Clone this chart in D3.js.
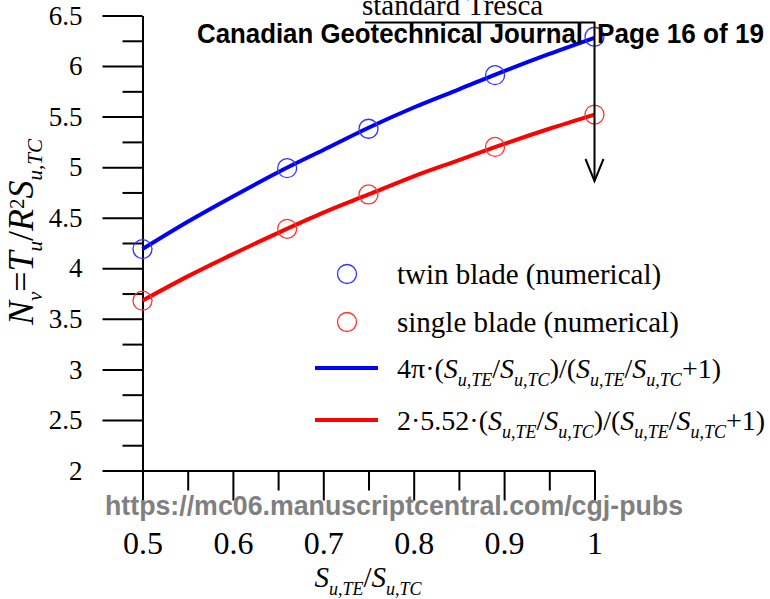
<!DOCTYPE html>
<html>
<head>
<meta charset="utf-8">
<script src="https://cdn.jsdelivr.net/npm/d3@7/dist/d3.min.js"></script>
<style>
  html, body { margin: 0; padding: 0; background: #fff; }
  svg { display: block; }
</style>
</head>
<body>
<svg id="chart" width="770" height="599"></svg>
<script>
// Strength ratio S_u,TE / S_u,TC at the numerical runs
const ratioPoints = [0.5, 0.66, 0.75, 0.89, 1.0];
const twinBlade = [4.19, 4.99, 5.38, 5.91, 6.29];
const singleBlade = [3.68, 4.39, 4.73, 5.20, 5.52];

// Closed-form curves, sampled along the ratio axis
const curveRatio = [0.5, 0.55, 0.6, 0.65, 0.7, 0.75, 0.8, 0.85, 0.9, 0.95, 1.0];
const twinCurve = [4.19, 4.46, 4.71, 4.95, 5.17, 5.39, 5.59, 5.77, 5.95, 6.12, 6.28];
const singleCurve = [3.68, 3.92, 4.14, 4.35, 4.55, 4.73, 4.91, 5.07, 5.23, 5.38, 5.52];

const xTicks = [0.5, 0.6, 0.7, 0.8, 0.9, 1.0];
const xTickLabels = ["0.5", "0.6", "0.7", "0.8", "0.9", "1"];
const xMinorTicks = [0.55, 0.65, 0.75, 0.85, 0.95];
const yTicks = [2, 2.5, 3, 3.5, 4, 4.5, 5, 5.5, 6, 6.5];
const yTickLabels = ["2", "2.5", "3", "3.5", "4", "4.5", "5", "5.5", "6", "6.5"];
const yMinorTicks = [2.25, 2.75, 3.25, 3.75, 4.25, 4.75, 5.25, 5.75, 6.25];

const SERIF = "'Liberation Serif', 'Times New Roman', serif";
const SANS = "'Liberation Sans', Arial, sans-serif";

const svg = d3.select("#chart");

const x = d3.scaleLinear().domain([0.5, 1.0]).range([142.5, 594.5]);
const y = d3.scaleLinear().domain([2, 6.5]).range([470.5, 15.5]);

// Rich text helper: parts = [{t, i (italic), sub, sup}]
function richText(sel, parts, size, subSize, shift) {
  let level = 0;
  parts.forEach(p => {
    const target = p.sub ? shift : p.sup ? -shift * 1.05 : 0;
    const ts = sel.append("tspan")
      .text(p.t)
      .attr("font-style", p.i ? "italic" : "normal")
      .attr("font-size", (p.sub || p.sup) ? subSize : size);
    if (target !== level) { ts.attr("dy", target - level); level = target; }
  });
}

// ---- axes ----
const axisG = svg.append("g");

const yAxis = d3.axisLeft(y).tickValues(yTicks)
  .tickFormat((d, i) => yTickLabels[i])
  .tickSize(40).tickSizeOuter(0).tickPadding(20);
const yMinor = d3.axisLeft(y).tickValues(yMinorTicks)
  .tickFormat("").tickSize(20).tickSizeOuter(0);
const xAxis = d3.axisBottom(x).tickValues(xTicks)
  .tickFormat((d, i) => xTickLabels[i])
  .tickSize(30).tickSizeOuter(0).tickPadding(31);
const xMinor = d3.axisBottom(x).tickValues(xMinorTicks)
  .tickFormat("").tickSize(20).tickSizeOuter(0);

const gy = axisG.append("g").attr("transform", `translate(${x(0.5)},0)`).call(yAxis);
axisG.append("g").attr("transform", `translate(${x(0.5)},0)`).call(yMinor);
const gx = axisG.append("g").attr("transform", `translate(0,${y(2)})`).call(xAxis);
axisG.append("g").attr("transform", `translate(0,${y(2)})`).call(xMinor);

axisG.selectAll("path.domain").attr("stroke", "#000").attr("stroke-width", 2);
axisG.selectAll(".tick line").attr("stroke", "#000").attr("stroke-width", 2);
gy.selectAll(".tick text")
  .attr("font-family", SERIF).attr("font-size", 27).attr("fill", "#000");
gx.selectAll(".tick text")
  .attr("font-family", SERIF).attr("font-size", 32).attr("fill", "#000");

// ---- curves ----
const line = d3.line().curve(d3.curveMonotoneX)
  .x(d => x(d[0])).y(d => y(d[1]));

svg.append("path")
  .datum(curveRatio.map((r, i) => [r, twinCurve[i]]))
  .attr("d", line).attr("fill", "none")
  .attr("stroke", "#0000ff").attr("stroke-width", 4);
svg.append("path")
  .datum(curveRatio.map((r, i) => [r, singleCurve[i]]))
  .attr("d", line).attr("fill", "none")
  .attr("stroke", "#ff0000").attr("stroke-width", 4);

// ---- numerical points ----
svg.append("g").selectAll("circle")
  .data(ratioPoints.map((r, i) => [r, twinBlade[i]]))
  .join("circle")
  .attr("cx", d => x(d[0])).attr("cy", d => y(d[1])).attr("r", 9.5)
  .attr("fill", "none").attr("stroke", "#3333ff").attr("stroke-width", 1.3);
svg.append("g").selectAll("circle")
  .data(ratioPoints.map((r, i) => [r, singleBlade[i]]))
  .join("circle")
  .attr("cx", d => x(d[0])).attr("cy", d => y(d[1])).attr("r", 9.5)
  .attr("fill", "none").attr("stroke", "#ff3333").attr("stroke-width", 1.3);

// ---- "standard Tresca" pointer ----
const ann = svg.append("g").attr("stroke", "#000").attr("stroke-width", 2).attr("fill", "none");
ann.append("path").attr("d", `M365,22.5 H${x(1)} V181`);
ann.append("path").attr("d", `M${x(1) - 9},159 L${x(1)},181 L${x(1) + 9},159`);
svg.append("text")
  .attr("x", 362).attr("y", 15)
  .attr("font-family", SERIF).attr("font-size", 29)
  .text("standard Tresca");

// ---- legend ----
const lg = svg.append("g");
lg.append("circle").attr("cx", 347).attr("cy", 274).attr("r", 9.5)
  .attr("fill", "none").attr("stroke", "#3333ff").attr("stroke-width", 1.3);
lg.append("circle").attr("cx", 347).attr("cy", 322).attr("r", 9.5)
  .attr("fill", "none").attr("stroke", "#ff3333").attr("stroke-width", 1.3);
lg.append("line").attr("x1", 315).attr("x2", 378).attr("y1", 368).attr("y2", 368)
  .attr("stroke", "#0000ff").attr("stroke-width", 4);
lg.append("line").attr("x1", 315).attr("x2", 378).attr("y1", 420).attr("y2", 420)
  .attr("stroke", "#ff0000").attr("stroke-width", 4);

const legText = (yy, fs) => lg.append("text").attr("x", 397).attr("y", yy)
  .attr("font-family", SERIF).attr("font-size", fs).attr("fill", "#000");

legText(284, 29).text("twin blade (numerical)");
legText(332, 29).text("single blade (numerical)");

const ratioParts = [
  { t: "(" }, { t: "S", i: true }, { t: "u,TE", i: true, sub: true },
  { t: "/" }, { t: "S", i: true }, { t: "u,TC", i: true, sub: true },
  { t: ")/(" }, { t: "S", i: true }, { t: "u,TE", i: true, sub: true },
  { t: "/" }, { t: "S", i: true }, { t: "u,TC", i: true, sub: true },
  { t: "+1)" }
];
richText(legText(378, 28), [{ t: "4π·" }].concat(ratioParts), 28, 18, 8);
richText(legText(430, 28), [{ t: "2·5.52·" }].concat(ratioParts), 28, 18, 8);

// ---- axis titles ----
const xt = svg.append("text")
  .attr("x", 368).attr("y", 587).attr("text-anchor", "middle")
  .attr("font-family", SERIF).attr("fill", "#000");
richText(xt, [
  { t: "S", i: true }, { t: "u,TE", i: true, sub: true },
  { t: "/" }, { t: "S", i: true }, { t: "u,TC", i: true, sub: true }
], 29, 18, 8);

const yt = svg.append("text")
  .attr("transform", "translate(33,232) rotate(-90)")
  .attr("text-anchor", "middle")
  .attr("font-family", SERIF).attr("fill", "#000");
richText(yt, [
  { t: "N", i: true }, { t: "v", i: true, sub: true },
  { t: "=" }, { t: "T", i: true }, { t: "u", i: true, sub: true },
  { t: "/" }, { t: "R", i: true }, { t: "2", sup: true },
  { t: "S", i: true }, { t: "u,TC", i: true, sub: true }
], 36, 21, 9);

// ---- page header and footer stamp ----
svg.append("text")
  .attr("x", 197).attr("y", 43)
  .attr("font-family", SANS).attr("font-weight", "bold").attr("font-size", 27)
  .attr("textLength", 386).attr("lengthAdjust", "spacingAndGlyphs")
  .text("Canadian Geotechnical Journal");
svg.append("text")
  .attr("x", 597).attr("y", 43)
  .attr("font-family", SANS).attr("font-weight", "bold").attr("font-size", 27)
  .attr("textLength", 167).attr("lengthAdjust", "spacingAndGlyphs")
  .text("Page 16 of 19");
svg.append("text")
  .attr("x", 105).attr("y", 515)
  .attr("font-family", SANS).attr("font-weight", "bold").attr("font-size", 27)
  .attr("fill", "#808080")
  .attr("textLength", 578).attr("lengthAdjust", "spacingAndGlyphs")
  .text("https://mc06.manuscriptcentral.com/cgj-pubs");
</script>
</body>
</html>
